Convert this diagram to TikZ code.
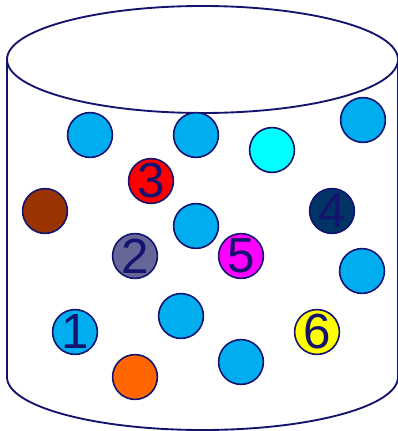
\documentclass[tikz,border=0pt]{standalone}
\usepackage{fontspec}
\setmainfont{Liberation Sans}
\definecolor{jarline}{HTML}{14146E}
\definecolor{skyball}{HTML}{00AEEF}
\definecolor{cyanball}{HTML}{00FFFF}
\definecolor{redball}{HTML}{FF0000}
\definecolor{brownball}{HTML}{993300}
\definecolor{navyball}{HTML}{003366}
\definecolor{greyball}{HTML}{666699}
\definecolor{pinkball}{HTML}{FF00FF}
\definecolor{orangeball}{HTML}{FF6600}
\definecolor{yellowball}{HTML}{FFFF00}
\begin{document}
\begin{tikzpicture}[
  x=0.75pt, y=-0.75pt,
  ball/.style={circle, draw=jarline, line width=1.2pt, fill=skyball,
               minimum size=33.6pt, inner sep=0pt,
               font=\fontsize{37}{37}\selectfont, text=jarline},
  jar/.style={draw=jarline, line width=1.4pt},
]
\useasboundingbox (0,0) rectangle (398,431);

% the jar
\draw[jar] (202.5,59.5) ellipse [x radius=195.5, y radius=53.5];
\draw[jar] (7,59.5) -- (7,377) arc [start angle=180, end angle=0, x radius=195.5, y radius=53] -- (398,59.5);

% balls without numbers
\node[ball] (b1) at (90,135) {};
\node[ball] (b2) at (196,135) {};
\node[ball, fill=cyanball] (b3) at (272,150) {};
\node[ball] (b4) at (363,120) {};
\node[ball, fill=brownball] (b5) at (45,211) {};
\node[ball] (b6) at (196,226) {};
\node[ball] (b7) at (362,271) {};
\node[ball] (b8) at (181,316) {};
\node[ball, fill=orangeball] (b9) at (135,377) {};
\node[ball] (b10) at (241,362) {};

% numbered balls
\node[ball, fill=redball] (n3) at (151,181) {3};
\node[ball, fill=navyball] (n4) at (332,211) {4};
\node[ball, fill=greyball] (n2) at (135,256) {2};
\node[ball, fill=pinkball] (n5) at (241,256) {5};
\node[ball] (n1) at (75,332) {1};
\node[ball, fill=yellowball] (n6) at (317,332) {6};
\end{tikzpicture}
\end{document}
